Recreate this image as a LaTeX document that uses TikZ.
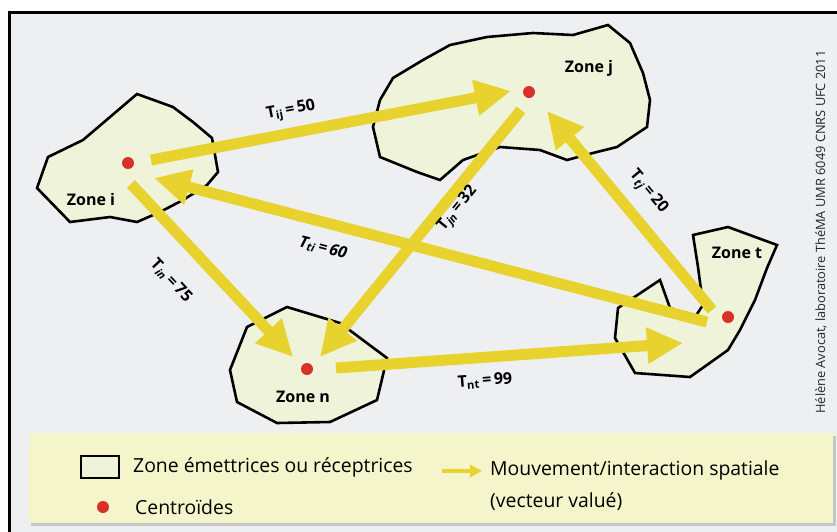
\documentclass[tikz,border=0pt]{standalone}
\usepackage{fontspec}
\setmainfont{Open Sans}
\usetikzlibrary{arrows.meta}

\definecolor{fondgris}{HTML}{EEEFF1}
\definecolor{zonevert}{HTML}{EEF3DA}
\definecolor{legjaune}{HTML}{F5F5CC}
\definecolor{fluxjaune}{HTML}{E8D22E}
\definecolor{centrerouge}{HTML}{D9302A}

\newcommand{\Tval}[2]{T\textsubscript{#1}\,=\,#2}

\begin{document}
\begin{tikzpicture}[x=1pt,y=-1pt,
  zone/.style={draw=black,line width=2.6pt,fill=zonevert,line join=miter},
  centre/.style={circle,fill=centrerouge,inner sep=0pt,minimum size=12pt},
  flux/.style={draw=fluxjaune,line width=11pt,-{Triangle[width=34pt,length=36pt]}},
  valeur/.style={font=\bfseries\fontsize{16}{18}\selectfont,inner sep=0pt},
  nomzone/.style={font=\bfseries\fontsize{16}{18}\selectfont,inner sep=1pt},
  legtexte/.style={font=\fontsize{19.4}{22}\selectfont,anchor=west,inner sep=0pt}]
\useasboundingbox (0,0) rectangle (837,531);
\fill[white] (0,0) rectangle (837,531);
\draw[line width=3pt,fill=fondgris] (9.5,12.5) rectangle (850,545);

% zones
\draw[zone] (137,94) -- (173,107) -- (193,122) -- (212,138) -- (218,172) -- (207,185)
  -- (183,200) -- (160,212) -- (137,222) -- (110,217) -- (70,222) -- (37,188)
  -- (48,157) -- (83,140) -- cycle;
\draw[zone] (393,78) -- (423,60) -- (450,45) -- (487,37) -- (533,33) -- (573,35)
  -- (608,25) -- (630,43) -- (643,73) -- (650,100) -- (647,127) -- (617,147)
  -- (593,153) -- (567,160) -- (540,150) -- (500,147) -- (463,160) -- (440,180)
  -- (417,172) -- (380,157) -- (373,127) -- (380,100) -- cycle;
\draw[zone] (693,235) -- (728,227) -- (777,245) -- (767,268) -- (755,300) -- (740,330)
  -- (728,350) -- (690,377) -- (635,373) -- (615,338) -- (618,308) -- (660,280)
  -- (670,308) -- (695,317) -- (703,305) -- (698,267) -- cycle;
\draw[zone] (247,327) -- (287,307) -- (340,323) -- (387,358) -- (377,400) -- (330,422)
  -- (277,423) -- (237,402) -- (230,370) -- cycle;

% centroides et noms
\node[centre] (ci) at (128,163) {};
\node[centre] (cj) at (529,92) {};
\node[centre] (ct) at (728,317) {};
\node[centre] (cn) at (307,369) {};
\node[nomzone] (zi) at (91,199) {Zone i};
\node[nomzone] (zj) at (589,68) {Zone j};
\node[nomzone] (zt) at (737,253) {Zone t};
\node[nomzone] (zn) at (303,397) {Zone n};

% extremites des flux
\coordinate (ij-a) at (151,160);
\coordinate (ij-b) at (511,91);
\coordinate (ti-a) at (707,322);
\coordinate (ti-b) at (154,178);
\coordinate (jn-a) at (521,110);
\coordinate (jn-b) at (320,357);
\coordinate (tj-a) at (712,310);
\coordinate (tj-b) at (547,111);
\coordinate (in-a) at (131,184);
\coordinate (in-b) at (293,357);
\coordinate (nt-a) at (336,368);
\coordinate (nt-b) at (683,343);

\draw[flux] (ti-a) -- (ti-b);
\draw[flux] (tj-a) -- (tj-b);
\draw[flux] (ij-a) -- (ij-b);
\draw[flux] (jn-a) -- (jn-b);
\draw[flux] (in-a) -- (in-b);
\draw[flux] (nt-a) -- (nt-b);

% valeurs
\node[valeur,rotate=10.8] (vij) at (291,111) {\Tval{ij}{50}};
\node[valeur,rotate=-14.6] (vti) at (323,248) {\itshape\Tval{ti}{60}};
\node[valeur,rotate=-46.7] (vin) at (171,281) {T\textsubscript{\itshape in}\,=\,75};
\node[valeur,rotate=51] (vjn) at (458,209) {T\textsubscript{\itshape jn}\,=\,32};
\node[valeur,rotate=-50] (vtj) at (648,192) {T\textsubscript{\itshape tj}\,=\,20};
\node[valeur,rotate=4.1] (vnt) at (485,381) {\Tval{nt}{99}};

% source
\node[rotate=90,font=\fontsize{12.8}{14}\selectfont,text=black!85] (source) at (821,232)
  {Hélène Avocat, laboratoire ThéMA UMR 6049 CNRS UFC 2011};

% legende
\fill[black!22] (31,436) rectangle (836,526);
\fill[legjaune] (29,433) rectangle (833,523);
\node[draw=black,line width=2.6pt,fill=zonevert,minimum width=38pt,minimum height=22pt,
  inner sep=0pt] (legzone) at (100,467) {};
\node[legtexte] (legzonetxt) at (133,467) {Zone émettrices ou réceptrices};
\node[centre] (legcentre) at (103,507) {};
\node[legtexte] (legcentretxt) at (135,507) {Centroïdes};
\coordinate (legflux-a) at (442,471);
\coordinate (legflux-b) at (482,471);
\draw[draw=fluxjaune,line width=4pt,-{Triangle[width=12pt,length=12pt]}] (legflux-a) -- (legflux-b);
\node[legtexte] (legfluxtxt) at (490,470) {Mouvement/interaction spatiale};
\node[legtexte] (legfluxtxt2) at (490,502) {(vecteur valué)};
\end{tikzpicture}
\end{document}
